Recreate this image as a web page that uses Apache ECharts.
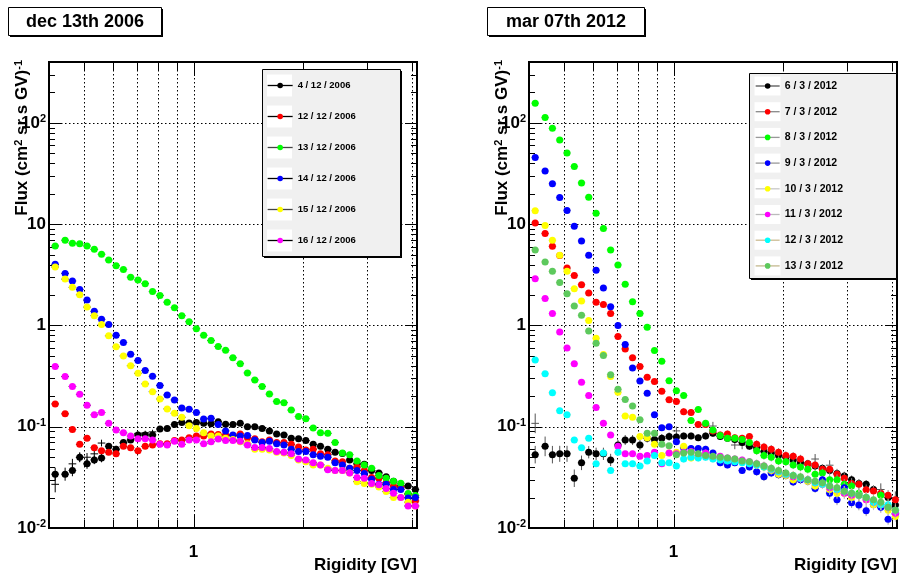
<!DOCTYPE html>
<html><head><meta charset="utf-8">
<script src="https://cdn.jsdelivr.net/npm/echarts@6/dist/echarts.min.js"></script>
<style>html,body{margin:0;padding:0;background:#fff;}#c{width:901px;height:577px;}</style>
</head><body><div id="c"></div>
<script>
// ---------------- data ----------------
const rigidity = [0.416,0.443,0.464,0.486,0.509,0.533,0.558,0.584,0.612,0.641,0.671,0.703,0.736,0.771,0.808,0.846,0.886,0.928,0.972,1.018,1.066,1.117,1.169,1.225,1.283,1.344,1.407,1.474,1.544,1.617,1.693,1.773,1.857,1.945,2.037,2.134,2.235,2.341,2.452,2.568,2.689,2.817,2.950,3.090,3.236,3.389,3.550,3.718,3.894,4.078];

const leftTitle = 'dec 13th 2006';
const rightTitle = 'mar 07th 2012';
const xTitle = 'Rigidity [GV]';

const leftNames = ['4 / 12 / 2006','12 / 12 / 2006','13 / 12 / 2006','14 / 12 / 2006','15 / 12 / 2006','16 / 12 / 2006'];
const L_black = [0.034,0.034,0.037,0.050,0.043,0.047,0.049,0.064,0.060,0.070,0.074,0.083,0.083,0.083,0.095,0.096,0.105,0.110,0.109,0.110,0.108,0.107,0.112,0.106,0.105,0.108,0.100,0.100,0.096,0.091,0.085,0.083,0.077,0.076,0.073,0.067,0.064,0.060,0.056,0.0545,0.047,0.043,0.0427,0.037,0.035,0.032,0.029,0.026,0.026,0.024];
const L_red = [0.168,0.134,0.094,0.067,0.077,0.062,0.058,0.056,0.054,0.064,0.062,0.058,0.064,0.066,0.068,0.068,0.073,0.074,0.078,0.081,0.081,0.085,0.084,0.083,0.082,0.085,0.078,0.076,0.071,0.074,0.070,0.070,0.067,0.063,0.059,0.060,0.054,0.053,0.046,0.045,0.039,0.040,0.037,0.0315,0.031,0.028,0.026,0.025,0.0216,0.0185];
const L_green = [6.1,6.95,6.5,6.4,6.1,5.65,5.05,4.43,3.9,3.58,3.0,2.81,2.59,2.16,1.98,1.70,1.50,1.25,1.09,0.93,0.80,0.71,0.62,0.57,0.48,0.42,0.34,0.29,0.25,0.21,0.178,0.173,0.146,0.126,0.12,0.097,0.087,0.086,0.070,0.055,0.053,0.046,0.042,0.039,0.033,0.031,0.029,0.0277,0.0219,0.0209];
const L_blue = [4.02,3.27,2.75,2.27,1.78,1.38,1.15,1.02,0.80,0.68,0.52,0.45,0.36,0.315,0.256,0.206,0.184,0.153,0.149,0.138,0.119,0.121,0.105,0.091,0.083,0.081,0.082,0.074,0.070,0.072,0.068,0.066,0.060,0.057,0.057,0.053,0.051,0.050,0.044,0.042,0.039,0.037,0.0345,0.0303,0.027,0.027,0.024,0.024,0.0198,0.020];
const L_yellow = [3.78,2.87,2.38,2.01,1.52,1.25,1.02,0.79,0.615,0.50,0.40,0.337,0.265,0.222,0.188,0.150,0.136,0.124,0.102,0.096,0.087,0.081,0.081,0.077,0.075,0.071,0.068,0.060,0.060,0.059,0.056,0.055,0.052,0.047,0.045,0.042,0.042,0.039,0.037,0.037,0.035,0.0287,0.0275,0.027,0.0254,0.0229,0.020,0.020,0.018,0.0165];
const L_magenta = [0.393,0.313,0.25,0.209,0.163,0.131,0.138,0.108,0.093,0.087,0.081,0.076,0.076,0.074,0.067,0.066,0.072,0.067,0.074,0.074,0.068,0.071,0.0755,0.073,0.073,0.072,0.066,0.0624,0.0624,0.061,0.057,0.056,0.054,0.048,0.047,0.044,0.042,0.0375,0.037,0.037,0.035,0.0315,0.031,0.0275,0.0267,0.0245,0.022,0.020,0.0165,0.0165];
// relative vertical errors of the 4/12 points
const L_blackErr = [0.16,0.16,0.14,0.12,0.12,0.10,0.10,0.08,0.08,0.07,0.07,0.06,0.06,0.05,0.05,0.04,0.04,0.04,0.03,0.03,0.03,0.03,0.03,0.03,0.03,0.03,0.03,0.03,0.03,0.03,0.03,0.03,0.03,0.03,0.03,0.03,0.03,0.03,0.03,0.04,0.04,0.04,0.04,0.04,0.04,0.04,0.05,0.05,0.05,0.05];
// extra black error crosses without marker
const L_cross = [0.027,null,0.043,0.0497,0.050,0.054,0.069,null,null,0.069,null,0.086,0.087,0.089,null,null,null,null,null,null,null,null,null,null,null,null,null,null,null,null,null,null,null,null,null,null,null,null,null,null,null,null,null,null,null,null,null,null,null,null];
const L_crossErr = [0.2,0,0.12,0.1,0.1,0.08,0.08,0,0,0.06,0,0.05,0.05,0.05,0,0,0,0,0,0,0,0,0,0,0,0,0,0,0,0,0,0,0,0,0,0,0,0,0,0,0,0,0,0,0,0,0,0,0,0];

const rightNames = ['6 / 3 / 2012','7 / 3 / 2012','8 / 3 / 2012','9 / 3 / 2012','10 / 3 / 2012','11 / 3 / 2012','12 / 3 / 2012','13 / 3 / 2012'];
const R_black = [0.053,0.064,0.053,0.054,0.054,0.031,0.044,0.056,0.054,0.054,0.047,0.066,0.074,0.074,0.066,0.077,0.075,0.077,0.080,0.079,0.081,0.081,0.078,0.081,0.086,0.080,0.077,0.075,0.070,0.064,0.062,0.057,0.055,0.052,0.050,0.047,0.044,0.043,0.041,0.039,0.037,0.0345,0.0327,0.030,0.0275,0.027,0.024,0.0215,0.020,0.0169];
const R_red = [10.3,8.09,6.05,4.9,3.69,3.12,2.53,2.09,1.70,1.61,1.31,0.78,0.587,0.479,0.393,0.308,0.279,0.224,0.185,0.178,0.141,0.138,0.105,0.105,0.091,0.083,0.085,0.078,0.077,0.080,0.067,0.063,0.060,0.056,0.052,0.051,0.048,0.043,0.042,0.038,0.038,0.034,0.031,0.0275,0.027,0.0238,0.0232,0.022,0.021,0.019];
const R_green = [157,113,88.5,67.9,50.5,37.2,25.6,18.5,12.8,9.06,5.57,3.96,2.55,1.72,1.31,0.96,0.565,0.444,0.285,0.227,0.203,0.115,0.148,0.108,0.093,0.082,0.077,0.077,0.075,0.070,0.058,0.052,0.050,0.046,0.045,0.042,0.040,0.038,0.034,0.035,0.030,0.030,0.027,0.026,0.022,0.020,0.018,0.021,0.016,0.014];
const R_blue = [45.7,33.5,25.1,18.4,13.7,9.56,6.84,4.93,3.51,2.34,1.53,1.0,0.648,0.381,0.283,0.214,0.131,0.098,0.100,0.071,0.062,0.061,0.061,0.060,0.055,0.044,0.042,0.044,0.037,0.040,0.036,0.032,0.035,0.0335,0.033,0.0285,0.030,0.029,0.0245,0.030,0.022,0.019,0.025,0.0178,0.0169,0.0148,0.017,0.016,0.0122,0.0137];
const R_yellow = [13.6,9.7,6.95,4.93,3.43,2.31,1.74,1.12,0.748,0.516,0.313,0.219,0.128,0.124,0.080,0.078,0.067,0.052,0.055,0.056,0.064,0.049,0.052,0.054,0.050,0.049,0.048,0.047,0.046,0.044,0.042,0.040,0.037,0.034,0.033,0.030,0.031,0.029,0.026,0.027,0.024,0.022,0.022,0.020,0.021,0.019,0.017,0.017,0.015,0.013];
const R_magenta = [2.9,1.85,1.31,0.86,0.60,0.418,0.275,0.203,0.155,0.108,0.083,0.064,0.054,0.054,0.0512,0.052,0.056,0.043,0.055,0.054,0.056,0.057,0.052,0.055,0.050,0.051,0.049,0.048,0.047,0.045,0.043,0.041,0.038,0.036,0.034,0.032,0.031,0.030,0.028,0.027,0.025,0.024,0.022,0.021,0.021,0.019,0.018,0.017,0.016,0.014];
const R_cyan = [0.457,0.333,0.216,0.144,0.131,0.074,0.062,0.077,0.043,0.055,0.037,0.056,0.043,0.043,0.041,0.046,0.052,0.044,0.044,0.041,0.048,0.050,0.049,0.050,0.048,0.047,0.046,0.045,0.044,0.043,0.042,0.040,0.038,0.036,0.034,0.033,0.031,0.030,0.028,0.027,0.026,0.024,0.023,0.022,0.021,0.020,0.018,0.017,0.017,0.015];
const R_lgreen = [5.57,4.24,3.43,2.65,2.06,1.56,1.26,0.88,0.668,0.505,0.327,0.234,0.186,0.160,0.117,0.086,0.086,0.067,0.065,0.053,0.055,0.056,0.054,0.052,0.051,0.050,0.049,0.048,0.046,0.045,0.043,0.041,0.039,0.037,0.035,0.033,0.032,0.030,0.029,0.028,0.026,0.025,0.023,0.022,0.021,0.020,0.019,0.018,0.016,0.015];
// relative vertical errors (right panel)
const R_err = [0.03,0.03,0.03,0.03,0.03,0.03,0.03,0.03,0.03,0.03,0.04,0.04,0.04,0.04,0.04,0.06,0.06,0.06,0.06,0.06,0.08,0.08,0.08,0.08,0.08,0.08,0.08,0.08,0.08,0.08,0.10,0.10,0.10,0.10,0.10,0.10,0.10,0.10,0.10,0.10,0.13,0.13,0.13,0.13,0.13,0.13,0.13,0.13,0.13,0.13];
const R_blackErr = [0.22,0.25,0.22,0.2,0.2,0.22,0.18,0.15,0.15,0.15,0.15,0.12,0.12,0.12,0.12,0.1,0.1,0.1,0.1,0.1,0.08,0.08,0.08,0.08,0.08,0.08,0.08,0.08,0.08,0.08,0.08,0.08,0.08,0.08,0.08,0.09,0.09,0.09,0.09,0.09,0.1,0.1,0.1,0.1,0.1,0.1,0.1,0.1,0.1,0.1];
const R_cross = [0.108,null,null,null,null,null,null,null,null,null,null,null,null,null,null,null,null,null,null,0.091,null,null,null,null,0.1016,null,null,0.066,0.066,null,null,null,null,null,null,null,null,null,0.048,null,0.0417,null,null,null,null,null,null,0.024,null,0.020];
const R_crossErr = [0.25,0,0,0,0,0,0,0,0,0,0,0,0,0,0,0,0,0,0,0.1,0,0,0,0,0.1,0,0,0.1,0.1,0,0,0,0,0,0,0,0,0,0.12,0,0.12,0,0,0,0,0,0,0.15,0,0.15];

// axis ticks
const xGridTicks = [0.5,0.6,0.7,0.8,0.9,1,2,3,4];
const yMajorTicks = [0.01,0.1,1,10,100];
const yMinorTicks = [0.02,0.03,0.04,0.05,0.06,0.07,0.08,0.09,0.2,0.3,0.4,0.5,0.6,0.7,0.8,0.9,2,3,4,5,6,7,8,9,20,30,40,50,60,70,80,90,200,300];

// ---------------- styles ----------------
const FONT = '"Liberation Sans", Arial, Helvetica, sans-serif';
const X_MIN = 0.4, X_MAX = 4.12, Y_MIN = 0.01, Y_MAX = 400;
const BIN_HALF = Math.pow(10, 0.0105);
const leftColors = ['#000000','#ff0000','#00ff00','#0000ff','#ffff00','#ff00ff'];
const leftErrColors = ['#000','#111','#333','#111','#333','#111'];
const leftLegLine = ['#000','#000','#444','#000','#444','#000'];
const rightColors = ['#000000','#ff0000','#00ff00','#0000ff','#ffff00','#ff00ff','#00ffff','#5dc95d'];
const rightErrColors = ['#555','#888','#999','#999','#c8c8c8','#bbbbbb','#cbbb92','#c4b88e'];

const GRIDS = [{left:49, top:62, width:368, height:466},{left:529, top:62, width:368, height:466}];

function errRenderer(color) {
  return function (params, api) {
    const x = api.value(0), y = api.value(1), e = api.value(2);
    const a = api.coord([x / BIN_HALF, y]), b = api.coord([x * BIN_HALF, y]);
    const ch = [{type:'line', shape:{x1:a[0], y1:a[1], x2:b[0], y2:b[1]}, style:{stroke:color, lineWidth:1}}];
    if (e > 0) {
      const t = api.coord([x, y * (1 + e)]), d = api.coord([x, y / (1 + e)]);
      ch.push({type:'line', shape:{x1:t[0], y1:t[1], x2:d[0], y2:d[1]}, style:{stroke:color, lineWidth:1}});
    }
    return {type:'group', children:ch};
  };
}

function axisRenderer(params, api) {
  const cs = params.coordSys;
  const kind = api.value(2);
  const p = api.coord([api.value(0), api.value(1)]);
  const L = cs.x, R = cs.x + cs.width, T = cs.y, B = cs.y + cs.height;
  const dotted = {stroke:'#000', lineWidth:1, lineDash:[1.5, 2.5]};
  const solid = {stroke:'#000', lineWidth:1};
  const ch = [];
  const ln = (x1,y1,x2,y2,s) => ch.push({type:'line', shape:{x1,y1,x2,y2}, style:s});
  if (kind === 0 || kind === 1) {
    const X = Math.round(p[0]) + 0.5;
    ln(X, T, X, B, dotted);
    const len = kind === 1 ? 14 : 8;
    ln(X, B, X, B - len, solid);
    ln(X, T, X, T + len, solid);
  } else {
    const Y = Math.round(p[1]) + 0.5;
    const len = kind === 2 ? 12 : 6;
    if (kind === 2) ln(L, Y, R, Y, dotted);
    ln(L, Y, L + len, Y, solid);
    ln(R, Y, R - len, Y, solid);
  }
  return {type:'group', children:ch};
}

function axisData() {
  const d = [];
  xGridTicks.forEach(v => d.push([v, Y_MIN, v === 1 ? 1 : 0]));
  yMajorTicks.forEach(v => d.push([X_MIN, v, 2]));
  yMinorTicks.forEach(v => d.push([X_MIN, v, 3]));
  return d;
}

const series = [];
function addPlot(gi, names, sets, errs, colors, errColors, cross, crossErr, crossColor) {
  series.push({type:'custom', name:'axes'+gi, xAxisIndex:gi, yAxisIndex:gi, data:axisData(), renderItem:axisRenderer, z:1, silent:true, clip:false});
  if (cross) {
    series.push({type:'custom', name:'cross'+gi, xAxisIndex:gi, yAxisIndex:gi, z:2, silent:true,
      data: rigidity.map((x,k)=>[x, cross[k], crossErr[k]]).filter(d=>d[1]!=null),
      renderItem: errRenderer(crossColor)});
  }
  sets.forEach((vals, i) => {
    const ev = errs[i];
    series.push({type:'custom', name:names[i]+' err', xAxisIndex:gi, yAxisIndex:gi, z:3+2*i, silent:true,
      data: rigidity.map((x,k)=>[x, vals[k], ev ? ev[k] : 0]).filter(d=>d[1]!=null),
      renderItem: errRenderer(errColors[i])});
    series.push({type:'line', name:names[i], xAxisIndex:gi, yAxisIndex:gi, z:4+2*i, silent:true,
      data: rigidity.map((x,k)=>[x, vals[k]]).filter(d=>d[1]!=null),
      symbol:'circle', symbolSize:7, showSymbol:true, itemStyle:{color:colors[i], borderWidth:0},
      lineStyle:{opacity:0, width:0}, emphasis:{disabled:true}, animation:false});
  });
}
addPlot(0, leftNames, [L_black,L_red,L_green,L_blue,L_yellow,L_magenta], [L_blackErr,null,null,null,null,null], leftColors, leftErrColors, L_cross, L_crossErr, '#000');
addPlot(1, rightNames, [R_black,R_red,R_green,R_blue,R_yellow,R_magenta,R_cyan,R_lgreen], [R_blackErr,R_err,R_err,R_err,R_err,R_err,R_err,R_err], rightColors, rightErrColors, R_cross, R_crossErr, '#555');

function yLabel(v) {
  const e = Math.log10(v), r = Math.round(e);
  if (Math.abs(e - r) > 1e-6) return '';
  if (r === 0) return '{b|1}';
  if (r === 1) return '{b|10}';
  return '{b|10}{s|' + r + '}';
}
const labRich = {
  b:{fontSize:17, fontWeight:'bold', fontFamily:FONT, color:'#000', lineHeight:19},
  s:{fontSize:11, fontWeight:'bold', fontFamily:FONT, color:'#000', verticalAlign:'top', lineHeight:12}
};
function mkX(gi){ return {type:'log', logBase:10, gridIndex:gi, min:X_MIN, max:X_MAX,
  axisLine:{show:false}, axisTick:{show:false}, splitLine:{show:false},
  axisLabel:{formatter:v=>Math.abs(v-1)<1e-9?'1':'', fontSize:17, fontWeight:'bold', fontFamily:FONT, color:'#000', margin:16, showMinLabel:true, showMaxLabel:false}}; }
function mkY(gi){ return {type:'log', logBase:10, gridIndex:gi, min:Y_MIN, max:Y_MAX,
  axisLine:{show:false}, axisTick:{show:false}, splitLine:{show:false},
  axisLabel:{formatter:yLabel, rich:labRich, margin:3, showMaxLabel:false}}; }

// ---------------- decorations ----------------
const graphics = [];
function titleBox(x, y, w, h, text) {
  graphics.push({type:'rect', shape:{x:x+1.5, y:y+1.5, width:w, height:h}, style:{fill:'#000'}, z:100});
  graphics.push({type:'rect', shape:{x:x, y:y, width:w, height:h}, style:{fill:'#fff', stroke:'#000', lineWidth:1}, z:101});
  graphics.push({type:'text', x:x+w/2, y:y+h/2+1, style:{text:text, fontSize:18, fontWeight:'bold', fontFamily:FONT, fill:'#000', align:'center', verticalAlign:'middle'}, z:102});
}
titleBox(8.5, 7.5, 153, 28, leftTitle);
titleBox(487.5, 7.5, 157, 28, rightTitle);

const yTitleRich = {
  n:{fontSize:17, fontWeight:'bold', fontFamily:FONT, fill:'#000', lineHeight:19},
  s:{fontSize:11, fontWeight:'bold', fontFamily:FONT, fill:'#000', verticalAlign:'top', lineHeight:11}
};
[13, 493].forEach(x => {
  graphics.push({type:'text', x:x, y:60, rotation:Math.PI/2, z:90,
    style:{text:'{n|Flux (cm}{s|2}{n| sr s GV)}{s|-1}', rich:yTitleRich, align:'right', verticalAlign:'top'}});
});
[417, 897].forEach(x => {
  graphics.push({type:'text', x:x, y:565, z:90,
    style:{text:xTitle, fontSize:17, fontWeight:'bold', fontFamily:FONT, fill:'#000', align:'right', verticalAlign:'middle'}});
});

// legend boxes
const LEG = [
  {box:[262.5, 69.5, 138, 187], iconX:267, iconW:25, top:75.5, gap:11, font:9.5, wb:[267, 25, 22], names:leftNames, lines:leftLegLine},
  {box:[749.5, 73.5, 147, 205], iconX:755, iconW:24, top:76, gap:5.7, font:10.5, wb:[754.5, 26, 19], names:rightNames, lines:rightErrColors}
];
LEG.forEach(L => {
  const [bx, by, bw, bh] = L.box;
  graphics.push({type:'rect', shape:{x:bx+1.5, y:by+1.5, width:bw, height:bh}, style:{fill:'#000'}, z:40});
  graphics.push({type:'rect', shape:{x:bx, y:by, width:bw, height:bh}, style:{fill:'#f0f0f0', stroke:'#000', lineWidth:1}, z:41});
  L.names.forEach((n, i) => {
    const cy = L.top + 10 + i * (20 + L.gap);
    graphics.push({type:'rect', shape:{x:L.wb[0], y:cy - L.wb[2]/2, width:L.wb[1], height:L.wb[2]}, style:{fill:'#fff'}, z:42});
  });
});

const legends = LEG.map(L => ({
  data: L.names.map((n, i) => ({name:n, lineStyle:{color:L.lines[i], width:1.3, opacity:1, type:'solid'}})),
  orient:'vertical', left:L.iconX, top:L.top, padding:0, itemWidth:L.iconW, itemHeight:7, itemGap:L.gap,
  selectedMode:false, z:50, backgroundColor:'transparent', borderWidth:0,
  textStyle:{fontSize:L.font, fontWeight:'bold', fontFamily:FONT, color:'#000', lineHeight:20}
}));

const chart = echarts.init(document.getElementById('c'), null, {renderer:'canvas'});
chart.setOption({
  animation:false,
  backgroundColor:'#fff',
  grid: GRIDS.map(g => Object.assign({show:true, borderColor:'#000', borderWidth:2, backgroundColor:'transparent', containLabel:false, outerBoundsMode:'none'}, g)),
  xAxis:[mkX(0), mkX(1)],
  yAxis:[mkY(0), mkY(1)],
  legend: legends,
  series: series,
  graphic: {elements: graphics}
});
</script></body></html>
